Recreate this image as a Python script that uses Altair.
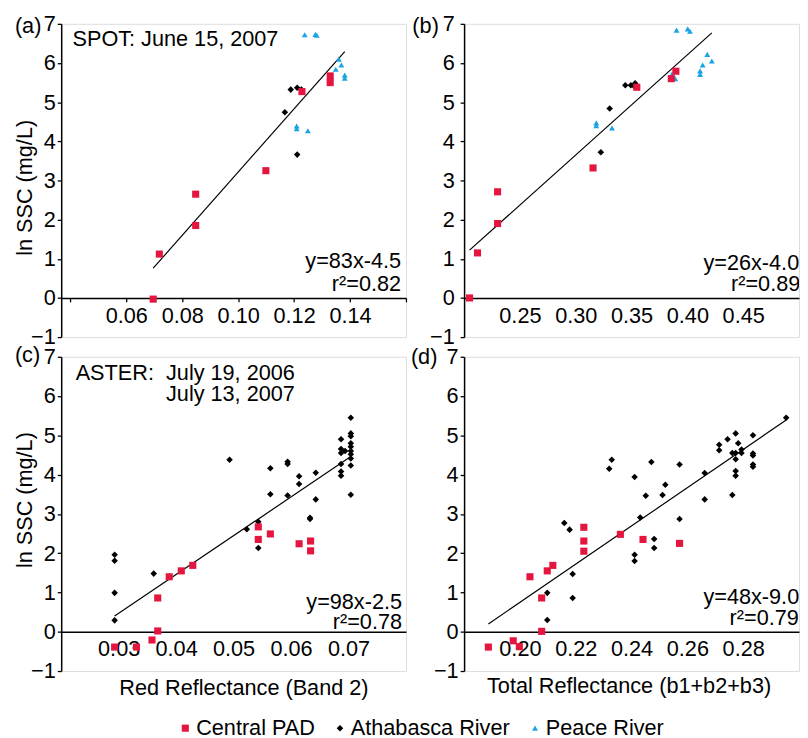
import altair as alt
import pandas as pd

FONT = "Liberation Sans"
FS = 22
SERIES = ["Central PAD", "Athabasca River", "Peace River"]
COLORS = ["#E4163F", "#000000", "#1BA3E3"]
SHAPES = ["square", "diamond", "triangle-up"]
SIZES = [52, 36, 46]

# ---- Panel (a): SPOT red reflectance ----
a_pad_x = [0.0696, 0.0718, 0.0848, 0.0848, 0.1099, 0.1228, 0.1329, 0.1329]
a_pad_y = [-0.03, 1.12, 2.65, 1.85, 3.25, 5.27, 5.67, 5.50]
a_ath_x = [0.1167, 0.1188, 0.1211, 0.1226, 0.1211]
a_ath_y = [4.74, 5.32, 5.37, 5.32, 3.66]
a_pea_x = [0.1238, 0.1276, 0.1281, 0.1360, 0.1369, 0.1349, 0.1381, 0.1381, 0.1209, 0.1209, 0.1249]
a_pea_y = [6.72, 6.73, 6.71, 6.10, 5.95, 5.84, 5.69, 5.61, 4.39, 4.32, 4.27]
a_fit_x = [0.0696, 0.1381]
a_fit_y = [0.76, 6.29]

# ---- Panel (b): SPOT total reflectance ----
b_pad_x = [0.2049, 0.2120, 0.2300, 0.2300, 0.3155, 0.3547, 0.3897, 0.3856]
b_pad_y = [0.00, 1.15, 2.71, 1.90, 3.32, 5.38, 5.79, 5.60]
b_ath_x = [0.3225, 0.3304, 0.3444, 0.3494, 0.3532, 0.3520]
b_ath_y = [3.72, 4.84, 5.43, 5.43, 5.48, 5.42]
b_pea_x = [0.3184, 0.3184, 0.3325, 0.3903, 0.4003, 0.4023, 0.4178, 0.4219, 0.4137, 0.4114, 0.4114, 0.3862, 0.3891]
b_pea_y = [4.47, 4.40, 4.34, 6.84, 6.87, 6.81, 6.22, 6.05, 5.95, 5.80, 5.71, 5.72, 5.60]
b_fit_x = [0.2049, 0.4219]
b_fit_y = [1.22, 6.77]

# ---- Panel (c): ASTER red reflectance ----
c_pad_x = [0.0293, 0.0331, 0.0358, 0.0368, 0.0368, 0.0388, 0.0409, 0.0429, 0.0543, 0.0543, 0.0564, 0.0614, 0.0634, 0.0634]
c_pad_y = [-0.39, -0.39, -0.21, 0.02, 0.86, 1.40, 1.55, 1.69, 2.67, 2.35, 2.49, 2.24, 2.31, 2.06]
c_ath_x = [0.0293, 0.0293, 0.0293, 0.0293, 0.0361, 0.0493, 0.0523, 0.0543, 0.0543, 0.0564, 0.0564,
           0.0594, 0.0594, 0.0594, 0.0614, 0.0614, 0.0633, 0.0633, 0.0643, 0.0643,
           0.0687, 0.0687, 0.0687, 0.0687, 0.0687, 0.0687, 0.0694,
           0.0704, 0.0704, 0.0704, 0.0704, 0.0704, 0.0704, 0.0704, 0.0704, 0.0704, 0.0704]
c_ath_y = [1.96, 1.81, 0.99, 0.29, 1.48, 4.38, 2.61, 2.80, 2.13, 4.16, 3.50,
           4.33, 4.27, 3.47, 3.96, 3.76, 2.90, 2.87, 4.05, 3.37,
           4.90, 4.65, 4.55, 4.27, 4.08, 3.97, 4.60,
           5.45, 5.05, 4.98, 4.80, 4.71, 4.60, 4.52, 4.41, 4.23, 3.49]
c_pea_x = []
c_pea_y = []
c_fit_x = [0.0293, 0.0704]
c_fit_y = [0.40, 4.46]

# ---- Panel (d): ASTER total reflectance ----
d_pad_x = [0.2229, 0.2229, 0.2229, 0.2360, 0.2441, 0.2572, 0.2118, 0.2098, 0.2036, 0.2078, 0.2078, 0.1887, 0.1976, 0.1998]
d_pad_y = [2.66, 2.31, 2.05, 2.48, 2.35, 2.25, 1.69, 1.55, 1.40, 0.86, 0.01, -0.39, -0.23, -0.38]
d_ath_x = [0.2954, 0.2835, 0.2835, 0.2835, 0.2835, 0.2835, 0.2773, 0.2782, 0.2794, 0.2794, 0.2773, 0.2761,
           0.2773, 0.2773, 0.2773, 0.2761, 0.2744, 0.2714, 0.2714, 0.2662, 0.2662, 0.2572, 0.2572,
           0.2521, 0.2511, 0.2471, 0.2481, 0.2481, 0.2451, 0.2431, 0.2411, 0.2411, 0.2411,
           0.2329, 0.2320, 0.2189, 0.2189, 0.2178, 0.2159, 0.2098, 0.2098]
d_ath_y = [5.45, 5.00, 4.54, 4.49, 4.26, 4.20, 5.05, 4.80, 4.64, 4.55, 4.55, 4.55,
           4.39, 4.09, 3.97, 3.48, 4.90, 4.76, 4.62, 4.04, 3.37, 4.26, 2.87,
           3.74, 3.48, 4.32, 2.36, 2.13, 3.46, 2.91, 3.94, 1.96, 1.80,
           4.38, 4.15, 1.47, 0.86, 2.60, 2.77, 0.99, 0.30]
d_pea_x = []
d_pea_y = []
d_fit_x = [0.1887, 0.2954]
d_fit_y = [0.20, 5.39]


def points_df(pad_x, pad_y, ath_x, ath_y, pea_x, pea_y):
    rows = []
    for xs, ys, name in [(ath_x, ath_y, SERIES[1]), (pea_x, pea_y, SERIES[2]), (pad_x, pad_y, SERIES[0])]:
        for x, y in zip(xs, ys):
            rows.append({"x": x, "y": y, "series": name})
    return pd.DataFrame(rows)


def txt(s, px, py, align="left", baseline="alphabetic", clip=False):
    return alt.Chart(pd.DataFrame({"t": [s]})).mark_text(
        align=align, baseline=baseline, font=FONT, fontSize=FS, color="black", clip=clip
    ).encode(x=alt.value(px), y=alt.value(py), text="t:N")


LEG = alt.Legend(title=None, orient="none", direction="horizontal", legendX=115, legendY=704,
                 symbolSize=30, labelFontSize=FS, labelFont=FONT, labelColor="black", labelLimit=400,
                 labelOffset=0, columnPadding=14, symbolStrokeWidth=0)


def panel(pts, fit_x, fit_y, xdom, xvals, xlab_lo, xlab_hi, width, height, texts,
          ytitle=None, ytitle_y=160, ylabpad=2, xticks=False, xlabpad=7, xtitle=None, xtitle_x=175, xtitle_y=64):
    xscale = alt.Scale(domain=xdom, nice=False, zero=False)
    yscale = alt.Scale(domain=[-1, 7], nice=False, zero=False)
    off = -(height / 8.0)
    xaxis_kw = dict(values=xvals, labelExpr=f"datum.value > {xlab_lo} && datum.value < {xlab_hi} ? format(datum.value, '.2f') : ''",
                    offset=off, ticks=xticks, tickSize=4, tickColor="black", tickWidth=1.3,
                    domainColor="black", domainWidth=1.5, labelPadding=xlabpad,
                    labelFontSize=FS, labelFont=FONT, labelColor="black", grid=False, labelFlush=False,
                    labelOverlap=False)
    if xtitle:
        xaxis_kw.update(title=xtitle, titleX=xtitle_x, titleY=xtitle_y, titleBaseline="alphabetic",
                        titleFontSize=FS, titleFont=FONT, titleFontWeight="normal", titleColor="black")
    else:
        xaxis_kw.update(title=None)
    yaxis_kw = dict(values=list(range(-1, 8)), format="d", tickSize=4, tickColor="black", tickWidth=1.3,
                    domainColor="black", domainWidth=1.5, labelPadding=ylabpad,
                    labelFontSize=FS, labelFont=FONT, labelColor="black", grid=False, labelFlush=False,
                    labelOverlap=False)
    if ytitle:
        yaxis_kw.update(title=ytitle, titleX=-25, titleY=ytitle_y, titleBaseline="bottom", titleAngle=270,
                        titleFontSize=FS, titleFont=FONT, titleFontWeight="normal", titleColor="black")
    else:
        yaxis_kw.update(title=None)
    xaxis = alt.Axis(**xaxis_kw)
    yaxis = alt.Axis(**yaxis_kw)

    fit = alt.Chart(pd.DataFrame({"x": fit_x, "y": fit_y})).mark_line(color="black", strokeWidth=1.2).encode(
        x=alt.X("x:Q", scale=xscale, axis=xaxis),
        y=alt.Y("y:Q", scale=yscale, axis=yaxis),
    )
    pts_layer = alt.Chart(pts).mark_point(filled=True, opacity=1, strokeWidth=0).encode(
        x=alt.X("x:Q", scale=xscale, axis=xaxis),
        y=alt.Y("y:Q", scale=yscale, axis=yaxis),
        color=alt.Color("series:N", scale=alt.Scale(domain=SERIES, range=COLORS), legend=LEG),
        shape=alt.Shape("series:N", scale=alt.Scale(domain=SERIES, range=SHAPES), legend=LEG),
        size=alt.Size("series:N", scale=alt.Scale(domain=SERIES, range=SIZES), legend=None),
    )
    return alt.layer(fit, pts_layer, *texts).properties(width=width, height=height)


W1, W2, H1, H2 = 350, 340, 318, 319

pa = panel(points_df(a_pad_x, a_pad_y, a_ath_x, a_ath_y, a_pea_x, a_pea_y), a_fit_x, a_fit_y,
           [0.0367, 0.16], [0.04, 0.06, 0.08, 0.10, 0.12, 0.14, 0.16], 0.05, 0.15, W1, H1,
           [txt("(a)", -47, 2, baseline="middle"), txt("SPOT: June 15, 2007", 11.5, 23),
            txt("y=83x-4.5", W1 - 5, 248, align="right"), txt("r\u00b2=0.82", W1 - 5, 271, align="right")],
           ytitle="ln SSC (mg/L)", ytitle_y=166, xticks=True, xlabpad=4)

pb = panel(points_df(b_pad_x, b_pad_y, b_ath_x, b_ath_y, b_pea_x, b_pea_y), b_fit_x, b_fit_y,
           [0.20, 0.50], [0.25, 0.30, 0.35, 0.40, 0.45], 0.2, 0.5, W2, H1,
           [txt("(b)", -52.5, 2, baseline="middle"),
            txt("y=26x-4.0", 243, 249.5, clip=True), txt("r\u00b2=0.89", 271, 271, clip=True)],
           ylabpad=6, xlabpad=8)

pc = panel(points_df(c_pad_x, c_pad_y, c_ath_x, c_ath_y, c_pea_x, c_pea_y), c_fit_x, c_fit_y,
           [0.02, 0.08], [0.03, 0.04, 0.05, 0.06, 0.07], 0.02, 0.08, W1, H2,
           [txt("(c)", -47, -2, baseline="middle"), txt("ASTER:", 14.7, 24),
            txt("July 19, 2006", 106.4, 24), txt("July 13, 2007", 106.4, 45),
            txt("y=98x-2.5", W1 - 4, 256.5, align="right"), txt("r\u00b2=0.78", W1 - 4, 276.5, align="right")],
           ytitle="ln SSC (mg/L)", ytitle_y=145, xlabpad=7,
           xtitle="Red Reflectance (Band 2)", xtitle_x=185, xtitle_y=64)

pd_ = panel(points_df(d_pad_x, d_pad_y, d_ath_x, d_ath_y, d_pea_x, d_pea_y), d_fit_x, d_fit_y,
            [0.18, 0.30], [0.20, 0.22, 0.24, 0.26, 0.28], 0.19, 0.29, W2, H2,
            [txt("(d)", -54, 0, baseline="middle"),
             txt("y=48x-9.0", 243, 251, clip=True), txt("r\u00b2=0.79", 269.5, 272.5, clip=True)],
            xlabpad=7, xtitle="Total Reflectance (b1+b2+b3)", xtitle_x=167, xtitle_y=62)

chart = alt.concat(pa, pb, pc, pd_, columns=2, spacing={"row": 20, "column": 59}, bounds="flush").properties(
    padding={"left": 5, "top": -1.5, "right": 0, "bottom": 0}
).configure_view(stroke="black", strokeWidth=1.5).configure_axis(labelOverlap=False).configure(font=FONT)

chart.save("out.html", embed_options={"renderer": "svg", "actions": False})
